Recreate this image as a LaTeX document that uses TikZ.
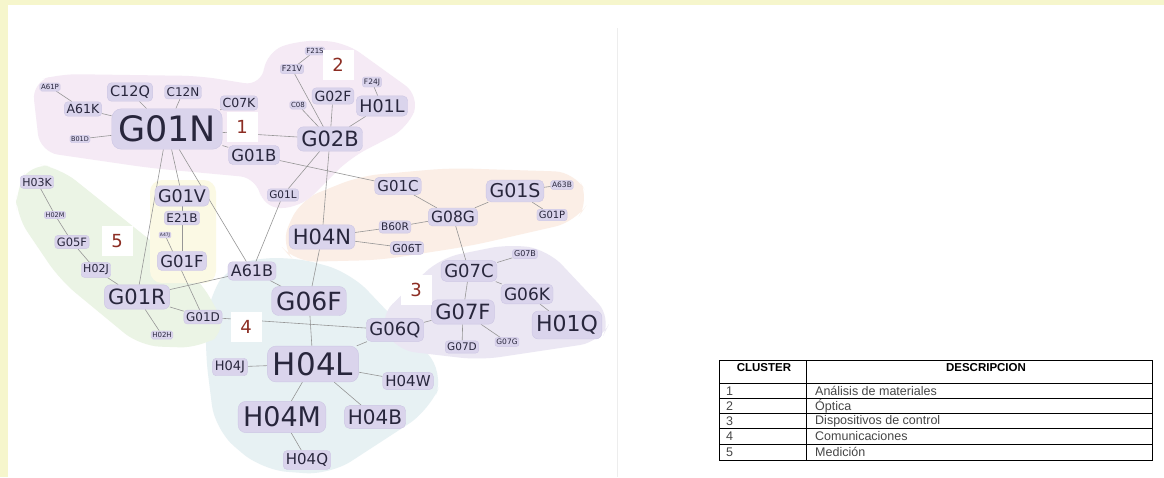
\documentclass[tikz,border=0pt]{standalone}
\usepackage{fontspec}
\setmainfont{DejaVu Sans}
\newfontfamily\tabfont{Liberation Sans}
\definecolor{pageyellow}{RGB}{246,246,204}
\definecolor{hullpink}{RGB}{245,234,245}
\definecolor{hullorange}{RGB}{251,238,230}
\definecolor{hullpurple}{RGB}{235,231,243}
\definecolor{hullblue}{RGB}{231,241,243}
\definecolor{hullgreen}{RGB}{235,244,229}
\definecolor{hullyellow}{RGB}{251,249,228}
\definecolor{tagfill}{RGB}{218,212,236}
\definecolor{tagedge}{RGB}{205,198,228}
\definecolor{tagtext}{RGB}{40,38,60}
\definecolor{linkgray}{RGB}{150,150,150}
\definecolor{numred}{RGB}{140,45,35}
\definecolor{celltext}{RGB}{70,70,70}
\pgfdeclarelayer{hull}
\pgfdeclarelayer{wire}
\pgfsetlayers{hull,wire,main}
\tikzset{
  tag/.style={fill=tagfill, draw=tagedge, line width=0.4pt, text=tagtext,
    rounded corners={0.28*#1pt}, inner xsep={0.18*#1pt}, inner ysep={0.2*#1pt},
    font=\fontsize{#1}{#1}\selectfont},
  link/.style={draw=linkgray, line width=0.6pt},
  num/.style={fill=white, text=numred, minimum width=31, minimum height=30,
    inner sep=0pt, font=\fontsize{18}{18}\selectfont},
  cell/.style={inner sep=0pt, text=celltext, font=\tabfont\fontsize{12.5}{13}\selectfont},
  head/.style={inner sep=0pt, text=black, font=\tabfont\bfseries\fontsize{11.5}{12}\selectfont},
}
\begin{document}
\begin{tikzpicture}[x=1pt,y=-1pt]
\useasboundingbox (0,0) rectangle (1164,477);
\begin{pgfonlayer}{hull}
\fill[pageyellow] (0,0) rectangle (1164,477);
\fill[white] (8,5) rectangle (1164,477);
\draw[black!7, line width=1pt] (617,28) -- (617,477);
\fill[hullblue, rounded corners=25pt] (207,300) -- (232,262) -- (290,256) -- (350,272) -- (445,372) -- (430,410) -- (330,475) -- (262,470) -- (215,430) -- (205,350) -- cycle;
\fill[hullpurple, rounded corners=20pt] (378,318) -- (440,258) -- (510,244) -- (548,250) -- (612,318) -- (600,342) -- (480,360) -- (395,350) -- cycle;
\fill[hullorange, rounded corners=20pt] (280,245) -- (300,200) -- (360,176) -- (450,168) -- (575,172) -- (590,200) -- (575,222) -- (470,246) -- (380,260) -- (295,262) -- cycle;
\fill[hullpink, rounded corners=18pt] (32,82) -- (60,74) -- (200,76) -- (262,86) -- (266,52) -- (300,40) -- (345,42) -- (420,96) -- (408,128) -- (350,158) -- (300,208) -- (262,208) -- (258,178) -- (150,168) -- (40,152) -- cycle;
\fill[hullgreen, rounded corners=20pt] (16,190) -- (30,163) -- (60,168) -- (200,280) -- (228,330) -- (200,348) -- (140,346) -- (60,280) -- (16,215) -- cycle;
\fill[hullyellow, rounded corners=12pt] (150,180) rectangle (216,283);
\end{pgfonlayer}

\node[tag=35] (G01N) at (167,129) {G01N};
\node[tag=7] (A61P) at (50,87) {A61P};
\node[tag=12.5] (A61K) at (83,109) {A61K};
\node[tag=14.5] (C12Q) at (130,92) {C12Q};
\node[tag=12] (C12N) at (183,92) {C12N};
\node[tag=12.5] (C07K) at (239,103) {C07K};
\node[tag=6.5] (B01D) at (80,139) {B01D};
\node[tag=16.5] (G01B) at (254,155) {G01B};
\node[tag=7] (F21S) at (315,51) {F21S};
\node[tag=8] (F21V) at (292,69) {F21V};
\node[tag=7] (C08) at (298,105) {C08};
\node[tag=14] (G02F) at (333,96) {G02F};
\node[tag=7.5] (F24J) at (372,82) {F24J};
\node[tag=17.5] (H01L) at (382,106) {H01L};
\node[tag=21] (G02B) at (330,139) {G02B};
\node[tag=10.5] (G01L) at (283,195) {G01L};
\node[tag=15] (G01C) at (398,186) {G01C};
\node[tag=15.5] (G08G) at (453,217) {G08G};
\node[tag=19] (G01S) at (515,191) {G01S};
\node[tag=7.5] (A63B) at (562,185) {A63B};
\node[tag=10] (G01P) at (552,215) {G01P};
\node[tag=10.5] (B60R) at (395,227) {B60R};
\node[tag=21] (H04N) at (322,237) {H04N};
\node[tag=11] (G06T) at (407,248) {G06T};
\node[tag=18] (G07C) at (469,271) {G07C};
\node[tag=8] (G07B) at (525,254) {G07B};
\node[tag=17] (G06K) at (527,294) {G06K};
\node[tag=21] (G07F) at (463,312) {G07F};
\node[tag=22] (H01Q) at (567,325) {H01Q};
\node[tag=10.5] (G07D) at (462,347) {G07D};
\node[tag=7.5] (G07G) at (507,342) {G07G};
\node[tag=18] (G06Q) at (395,330) {G06Q};
\node[tag=16] (A61B) at (252,271) {A61B};
\node[tag=25] (G06F) at (309,301) {G06F};
\node[tag=31] (H04L) at (313,364) {H04L};
\node[tag=13] (H04J) at (230,367) {H04J};
\node[tag=15] (H04W) at (408,381) {H04W};
\node[tag=27] (H04M) at (282,417) {H04M};
\node[tag=20] (H04B) at (375,417) {H04B};
\node[tag=15] (H04Q) at (307,460) {H04Q};
\node[tag=11] (H03K) at (37,182) {H03K};
\node[tag=6.5] (H02M) at (55,215) {H02M};
\node[tag=11.5] (G05F) at (72,242) {G05F};
\node[tag=11] (H02J) at (96,270) {H02J};
\node[tag=21] (G01R) at (137,297) {G01R};
\node[tag=7] (H02H) at (162,335) {H02H};
\node[tag=12] (G01D) at (203,317) {G01D};
\node[tag=17.5] (G01V) at (182,196) {G01V};
\node[tag=12] (E21B) at (182,218) {E21B};
\node[tag=4.5] (A47J) at (165,235) {A47J};
\node[tag=16.5] (G01F) at (182,261) {G01F};

\node[num] (one) at (242,127) {1};
\node[num] (two) at (338,65) {2};
\node[num] (three) at (416,290) {3};
\node[num] (four) at (246,327) {4};
\node[num] (five) at (117,241) {5};

\begin{pgfonlayer}{wire}
\draw[link] (A61P) -- (A61K) -- (G01N);
\draw[link] (C12Q) -- (G01N);
\draw[link] (C12N) -- (G01N);
\draw[link] (C07K) -- (G01N);
\draw[link] (B01D) -- (G01N);
\draw[link] (G01N) -- (G01B) -- (G01C);
\draw[link] (G01N) -- (G02B);
\draw[link] (F21S) -- (F21V) -- (G02B);
\draw[link] (C08) -- (G02B);
\draw[link] (G02F) -- (G02B);
\draw[link] (F24J) -- (H01L) -- (G02B);
\draw[link] (G02B) -- (G01L) -- (A61B);
\draw[link] (G02B) -- (H04N) -- (G06F);
\draw[link] (G01C) -- (G08G) -- (G01S) -- (A63B);
\draw[link] (G01S) -- (G01P);
\draw[link] (G08G) -- (B60R) -- (H04N) -- (G06T);
\draw[link] (G08G) -- (G07C);
\draw[link] (G07B) -- (G07C) -- (G06K) -- (H01Q);
\draw[link] (G07C) -- (G07F) -- (G07D);
\draw[link] (G07F) -- (G07G);
\draw[link] (G07F) -- (G06Q) -- (H04L);
\draw[link] (G01D) -- (G06Q);
\draw[link] (A61B) -- (G06F) -- (H04L);
\draw[link] (G01R) -- (A61B);
\draw[link] (H04J) -- (H04L) -- (H04W);
\draw[link] (H04L) -- (H04B);
\draw[link] (H04L) -- (H04M) -- (H04Q);
\draw[link] (G01N) -- (G01R);
\draw[link] (G01N) -- (G01V);
\draw[link] (G01N) -- (A61B);
\draw[link] (G01V) -- (E21B) -- (G01F);
\draw[link] (A47J) -- (G01D);
\draw[link] (H03K) -- (H02M) -- (G05F) -- (H02J) -- (G01R) -- (H02H);
\draw[link] (G01R) -- (G01D);
\end{pgfonlayer}

\draw[line width=0.8pt] (719,360) rectangle (1152,460);
\draw[line width=0.8pt] (806,360) -- (806,460);
\draw[line width=0.8pt] (719,383) -- (1152,383);
\draw[line width=0.8pt] (719,398) -- (1152,398);
\draw[line width=0.8pt] (719,413) -- (1152,413);
\draw[line width=0.8pt] (719,428) -- (1152,428);
\draw[line width=0.8pt] (719,444) -- (1152,444);
\node[head] (hclus) at (764,368) {CLUSTER};
\node[head] (hdesc) at (986,368) {DESCRIPCION};
\node[cell, anchor=west] (k1) at (726,391) {1};
\node[cell, anchor=west] (k2) at (726,406) {2};
\node[cell, anchor=west] (k3) at (726,421) {3};
\node[cell, anchor=west] (k4) at (726,436) {4};
\node[cell, anchor=west] (k5) at (726,452) {5};
\node[cell, anchor=west] (d1) at (815,391) {Análisis de materiales};
\node[cell, anchor=west] (d2) at (815,406) {Óptica};
\node[cell, anchor=west] (d3) at (815,421) {Dispositivos de control};
\node[cell, anchor=west] (d4) at (815,436) {Comunicaciones};
\node[cell, anchor=west] (d5) at (815,452) {Medición};
\end{tikzpicture}
\end{document}
